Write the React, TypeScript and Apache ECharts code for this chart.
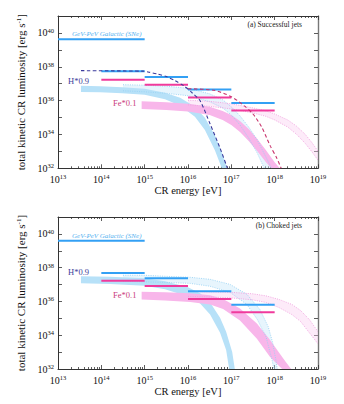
import React, { useEffect, useRef } from 'react';
import * as echarts from 'echarts';

const FONT = '"Liberation Serif", "Times New Roman", serif';
const AX = '#333';

// axis extents, in log10 units (eV, erg/s)
const xMinExp = 13;
const xMaxExp = 19;
const yMinExp = 32;
const yMaxExp = 41;

// horizontal bars (log10 luminosity)
const galacticRange = [13, 15];
const galacticA = 39.63;
const galacticB = 39.6;
const stepEdges = [14, 15, 16, 17, 18];
const blueStepsA = [37.74, 37.4, 36.65, 35.86];
const pinkStepsA = [37.24, 36.93, 36.18, 35.42];
const blueStepsB = [37.68, 37.37, 36.6, 35.81];
const pinkStepsB = [37.22, 36.91, 36.15, 35.36];

// (a) successful jets: bands as [log E, log L] outlines
const aBlueCoreUp = [[13.53, 36.88], [13.97, 36.85], [14.48, 36.79], [15.0, 36.7], [15.47, 36.46], [15.82, 36.17], [16.16, 35.63], [16.39, 34.98], [16.62, 33.96], [16.78, 32.95], [16.9, 32]];
const aBlueCoreLo = [[13.53, 36.51], [13.97, 36.49], [14.48, 36.43], [15.0, 36.35], [15.47, 36.08], [15.82, 35.69], [16.16, 35.04], [16.39, 34.26], [16.62, 33.07], [16.78, 32]];
const aBluePaleUp = [[14.5, 36.94], [15.0, 36.91], [15.5, 36.85], [16.0, 36.73], [16.5, 36.4], [16.8, 36.05], [17.0, 35.63], [17.2, 35.1], [17.4, 34.44], [17.6, 33.67], [17.8, 32.65], [17.93, 32]];
const aBluePaleLo = [[14.5, 36.58], [15.0, 36.52], [15.5, 36.43], [16.0, 36.29], [16.5, 35.93], [16.8, 35.57], [17.0, 35.15], [17.2, 34.56], [17.4, 33.79], [17.6, 32.89], [17.76, 32]];
const aPinkCoreUp = [[14.93, 35.96], [15.5, 35.9], [16.0, 35.81], [16.5, 35.63], [16.8, 35.39], [17.0, 35.15], [17.2, 34.8], [17.4, 34.32], [17.6, 33.73], [17.8, 33.07], [18.0, 32.36], [18.12, 32]];
const aPinkCoreLo = [[14.93, 35.51], [15.5, 35.45], [16.0, 35.36], [16.5, 35.15], [16.8, 34.86], [17.0, 34.56], [17.2, 34.14], [17.4, 33.61], [17.6, 33.01], [17.8, 32.36], [17.92, 32]];
const aPinkPaleUp = [[16.0, 36.02], [16.5, 35.96], [17.0, 35.81], [17.5, 35.57], [17.8, 35.39], [18.0, 35.21], [18.3, 34.86], [18.5, 34.5], [18.7, 34.02], [18.85, 33.55], [19.0, 33.01]];
const aPinkPaleLo = [[16.0, 35.75], [16.5, 35.66], [17.0, 35.51], [17.5, 35.27], [17.8, 35.07], [18.0, 34.86], [18.3, 34.44], [18.5, 34.02], [18.7, 33.49], [18.85, 33.01], [19.0, 32.48]];
const aNavyDashed = [[13.53, 37.77], [14.96, 37.74], [15.1, 37.68], [15.3, 37.57], [15.5, 37.42], [15.7, 37.18], [15.9, 36.88], [16.1, 36.45], [16.28, 35.99], [16.51, 34.62], [16.74, 33.19], [16.91, 32]];
const aCrimsonDashed = [[16.0, 36.7], [16.6, 36.61], [17.0, 36.23], [17.3, 35.69], [17.5, 35.21], [17.7, 34.44], [17.9, 33.31], [18.05, 32.6], [18.15, 32]];

// (b) choked jets
const bBlueCoreUp = [[13.53, 37.49], [14.2, 37.46], [15.0, 37.37], [15.47, 37.19], [16.0, 36.84], [16.28, 36.48], [16.51, 35.94], [16.74, 35.04], [16.88, 34.21], [17.02, 33.01], [17.08, 32]];
const bBlueCoreLo = [[13.53, 37.07], [14.2, 37.04], [15.0, 36.93], [15.47, 36.72], [16.0, 36.3], [16.28, 35.88], [16.51, 35.22], [16.74, 34.15], [16.88, 33.13], [16.95, 32]];
const bBluePaleUp = [[14.5, 37.55], [15.0, 37.55], [15.47, 37.49], [16.05, 37.43], [16.51, 37.31], [16.97, 37.01], [17.36, 36.42], [17.66, 35.52], [17.85, 34.51], [17.95, 33.6], [18.03, 32.5], [18.06, 32]];
const bBluePaleLo = [[14.5, 37.19], [15.0, 37.16], [15.47, 37.13], [16.05, 37.07], [16.51, 36.9], [16.97, 36.54], [17.36, 35.82], [17.6, 34.93], [17.8, 33.91], [17.94, 32.54], [17.98, 32]];
const bPinkCoreUp = [[14.93, 36.57], [15.47, 36.54], [16.05, 36.48], [16.51, 36.36], [16.81, 36.15], [17.2, 35.58], [17.59, 34.69], [17.89, 33.73], [18.12, 32.9], [18.24, 32.48], [18.38, 32]];
const bPinkCoreLo = [[14.93, 36.12], [15.47, 36.06], [16.05, 35.97], [16.51, 35.82], [16.81, 35.55], [17.2, 34.87], [17.59, 33.79], [17.89, 32.72], [18.17, 32]];
const bPinkPaleUp = [[16.0, 36.6], [16.5, 36.57], [17.0, 36.54], [17.5, 36.45], [17.8, 36.33], [18.1, 36.12], [18.4, 35.82], [18.6, 35.46], [18.8, 34.93], [19.0, 34.21]];
const bPinkPaleLo = [[16.0, 36.3], [16.5, 36.27], [17.0, 36.21], [17.5, 36.09], [17.8, 35.94], [18.1, 35.64], [18.4, 35.22], [18.6, 34.81], [18.8, 34.15], [19.0, 33.49]];

const panelTitles = ['(a) Successful jets', '(b) Choked jets'];
const galacticLabel = 'GeV-PeV Galactic (SNe)';
const hLabel = 'H*0.9';
const feLabel = 'Fe*0.1';

const C_BAR_BLUE = '#33a0f4';
const C_BAR_PINK = '#f03a9c';
const C_CORE_BLUE = '#b7e1f8';
const C_CORE_PINK = '#f8b6ea';
const C_PALE_BLUE = 'rgba(196,230,250,0.4)';
const C_PALE_PINK = 'rgba(250,205,240,0.4)';
const C_EDGE_BLUE = '#9ad2f3';
const C_EDGE_PINK = '#f0a2df';

// decade minor tick positions in log space (2..9 x 10^n)
const minorTicks: number[] = [];
for (let n = xMinExp; n < xMaxExp; n++) {
  for (let m = 2; m <= 9; m++) minorTicks.push(n + Math.log10(m));
}

const rich = {
  b: { fontSize: 10, fontFamily: FONT, color: '#111', lineHeight: 12 },
  s: { fontSize: 6.5, fontFamily: FONT, color: '#111', verticalAlign: 'top', lineHeight: 8 },
};

function stepSeries(edges: number[], vals: number[], color: string, g: number) {
  return vals.map((v, i) => ({
    type: 'line',
    xAxisIndex: g * 4,
    yAxisIndex: g * 3,
    data: [[edges[i], v], [edges[i + 1], v]],
    showSymbol: false,
    symbol: 'none',
    lineStyle: { color, width: 2 },
    z: 6,
    silent: true,
  }));
}

function bandSeries(up: number[][], lo: number[][], g: number, fill: string, edge: string | null, z: number) {
  return {
    type: 'custom',
    xAxisIndex: g * 4,
    yAxisIndex: g * 3,
    clip: true,
    z,
    silent: true,
    data: [up[0]],
    renderItem: (_params: any, api: any) => {
      const top = up.map((p) => api.coord(p));
      const bottom = lo.map((p) => api.coord(p));
      const children: any[] = [
        { type: 'polygon', shape: { points: top.concat(bottom.slice().reverse()) }, style: { fill, stroke: 'none' } },
      ];
      if (edge) {
        const st = { stroke: edge, lineWidth: 0.9, lineDash: [1, 1.3], fill: 'none' };
        children.push({ type: 'polyline', shape: { points: top }, style: st });
        children.push({ type: 'polyline', shape: { points: bottom }, style: st });
      }
      return { type: 'group', children };
    },
  };
}

function dashedSeries(data: number[][], color: string, g: number) {
  return {
    type: 'line',
    xAxisIndex: g * 4,
    yAxisIndex: g * 3,
    data,
    showSymbol: false,
    symbol: 'none',
    smooth: 0.25,
    lineStyle: { color, width: 1.1, type: [3.5, 2.5] },
    z: 7,
    silent: true,
  };
}

function axesFor(gridMain: number, gridMinor: number) {
  const xBase = { type: 'value', min: xMinExp, max: xMaxExp, interval: 1, splitLine: { show: false } };
  const yBase = { type: 'value', min: yMinExp, max: yMaxExp, interval: 1, splitLine: { show: false } };
  const line = { show: true, onZero: false, lineStyle: { color: AX, width: 1 } };
  const rline = { show: true, onZero: false, lineStyle: { color: '#777', width: 1.4 } };
  const tick = { show: true, inside: true, length: 4, lineStyle: { color: AX, width: 0.8 } };
  const minor = { show: true, inside: true, length: 2, customValues: minorTicks, lineStyle: { color: AX, width: 0.8 } };
  const x = [
    {
      ...xBase, gridIndex: gridMain, position: 'bottom', axisLine: line, axisTick: tick,
      axisLabel: { show: true, margin: 5, formatter: (v: number) => `{b|10}{s|${v}}`, rich },
      name: 'CR energy [eV]', nameLocation: 'middle', nameGap: 15,
      nameTextStyle: { fontFamily: FONT, fontSize: 10.5, color: '#111' },
    },
    { ...xBase, gridIndex: gridMain, position: 'top', axisLine: line, axisTick: tick, axisLabel: { show: false } },
    { ...xBase, gridIndex: gridMinor, position: 'bottom', axisLine: { show: false }, axisTick: minor, axisLabel: { show: false } },
    { ...xBase, gridIndex: gridMinor, position: 'top', axisLine: { show: false }, axisTick: minor, axisLabel: { show: false } },
  ];
  const y = [
    {
      ...yBase, gridIndex: gridMain, position: 'left', axisLine: line, axisTick: tick,
      axisLabel: {
        show: true, margin: 4, showMaxLabel: false,
        formatter: (v: number) => (v % 2 === 0 ? `{b|10}{s|${v}}` : ''), rich,
      },
      name: 'total kinetic CR luminosity [erg s{s|-1}]', nameLocation: 'middle', nameGap: 21,
      nameTextStyle: {
        fontFamily: FONT, fontSize: 11, color: '#111',
        rich: { s: { fontSize: 7, fontFamily: FONT, color: '#111', verticalAlign: 'top', lineHeight: 8 } },
      },
    },
    { ...yBase, gridIndex: gridMain, position: 'right', axisLine: rline, axisTick: tick, axisLabel: { show: false } },
    { ...yBase, gridIndex: gridMinor, show: false },
  ];
  return { x, y };
}

export default function App() {
  const ref = useRef<HTMLDivElement>(null);
  useEffect(() => {
    document.body.style.margin = '0';
    if (!ref.current) return;
    const chart = echarts.init(ref.current, undefined, { renderer: 'svg' });
    const gridA = { left: 58, top: 16, width: 260, height: 152.3 };
    const gridB = { left: 58, top: 217, width: 260, height: 152 };
    const axA = axesFor(0, 1);
    const axB = axesFor(2, 3);

    const series: any[] = [
      // panel (a)
      bandSeries(aBluePaleUp, aBluePaleLo, 0, C_PALE_BLUE, null, 1),
      bandSeries(aPinkPaleUp, aPinkPaleLo, 0, C_PALE_PINK, null, 1),
      bandSeries(aBlueCoreUp, aBlueCoreLo, 0, C_CORE_BLUE, null, 2),
      bandSeries(aPinkCoreUp, aPinkCoreLo, 0, C_CORE_PINK, null, 2),
      bandSeries(aBluePaleUp, aBluePaleLo, 0, 'rgba(0,0,0,0)', C_EDGE_BLUE, 3),
      bandSeries(aPinkPaleUp, aPinkPaleLo, 0, 'rgba(0,0,0,0)', C_EDGE_PINK, 3),
      {
        type: 'line', xAxisIndex: 0, yAxisIndex: 0, showSymbol: false, symbol: 'none', silent: true, z: 6,
        data: [[galacticRange[0], galacticA], [galacticRange[1], galacticA]],
        lineStyle: { color: C_BAR_BLUE, width: 2 },
      },
      ...stepSeries(stepEdges, blueStepsA, C_BAR_BLUE, 0),
      ...stepSeries(stepEdges, pinkStepsA, C_BAR_PINK, 0),
      dashedSeries(aNavyDashed, '#3a3a9c', 0),
      dashedSeries(aCrimsonDashed, '#c8336c', 0),
      // panel (b)
      bandSeries(bBluePaleUp, bBluePaleLo, 1, C_PALE_BLUE, null, 1),
      bandSeries(bPinkPaleUp, bPinkPaleLo, 1, C_PALE_PINK, null, 1),
      bandSeries(bBlueCoreUp, bBlueCoreLo, 1, C_CORE_BLUE, null, 2),
      bandSeries(bPinkCoreUp, bPinkCoreLo, 1, C_CORE_PINK, null, 2),
      bandSeries(bBluePaleUp, bBluePaleLo, 1, 'rgba(0,0,0,0)', C_EDGE_BLUE, 3),
      bandSeries(bPinkPaleUp, bPinkPaleLo, 1, 'rgba(0,0,0,0)', C_EDGE_PINK, 3),
      {
        type: 'line', xAxisIndex: 4, yAxisIndex: 3, showSymbol: false, symbol: 'none', silent: true, z: 6,
        data: [[galacticRange[0], galacticB], [galacticRange[1], galacticB]],
        lineStyle: { color: C_BAR_BLUE, width: 2 },
      },
      ...stepSeries(stepEdges, blueStepsB, C_BAR_BLUE, 1),
      ...stepSeries(stepEdges, pinkStepsB, C_BAR_PINK, 1),
    ];

    const txt = (text: string, x: number, y: number, size: number, fill: string, extra: any = {}) => ({
      type: 'text', x, y, z: 10, silent: true,
      style: { text, fontFamily: FONT, fontSize: size, fill, textVerticalAlign: 'middle', ...extra },
    });

    const graphic = [
      txt(panelTitles[0], 302, 24, 7.5, '#222', { textAlign: 'right' }),
      txt(panelTitles[1], 302, 225, 7.5, '#222', { textAlign: 'right' }),
      txt(galacticLabel, 72, 34, 7, '#55b2f0', { fontStyle: 'italic' }),
      txt(galacticLabel, 72, 236, 7, '#55b2f0', { fontStyle: 'italic' }),
      txt(hLabel, 68, 81, 8.5, '#3d3d99'),
      txt(hLabel, 68, 272, 8.5, '#3d3d99'),
      txt(feLabel, 113, 103, 8.5, '#c93c7c'),
      txt(feLabel, 113, 295, 8.5, '#c93c7c'),
    ];

    chart.setOption({
      animation: false,
      grid: [gridA, gridA, gridB, gridB],
      xAxis: [...axA.x, ...axB.x],
      yAxis: [...axA.y, ...axB.y],
      series,
      graphic,
    });
    return () => chart.dispose();
  }, []);
  return <div ref={ref} style={{ width: 344, height: 404 }} />;
}
